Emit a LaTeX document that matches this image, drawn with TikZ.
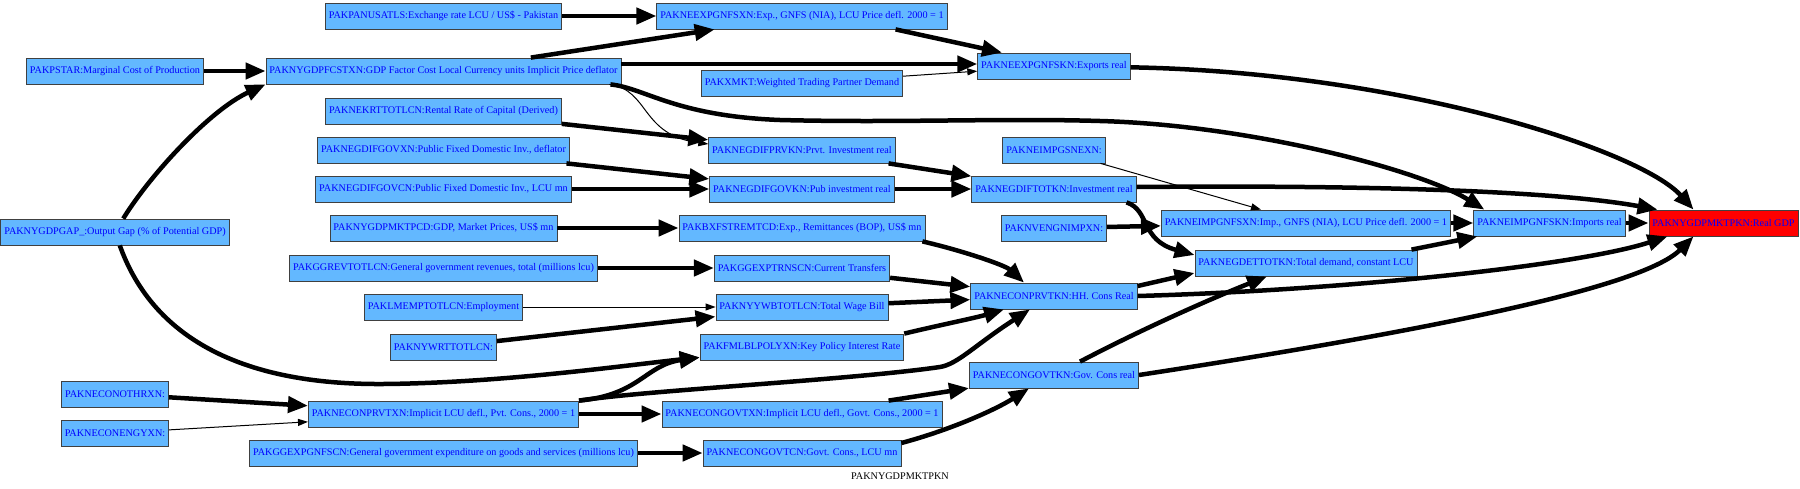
\documentclass[tikz,border=0pt]{standalone}
\usepackage{fontspec}
\setmainfont{Liberation Serif}
\usetikzlibrary{arrows.meta}
\definecolor{boxblue}{RGB}{99,184,255}

\begin{document}
\begin{tikzpicture}[x=1pt, y=-1pt,
    box/.style={draw=black!75, line width=0.8pt, fill=boxblue, rectangle, align=center, text=blue,
      font=\fontsize{10.2}{12}\selectfont, inner xsep=3.5pt, inner ysep=0pt, minimum height=26pt},
    target/.style={box, fill=red},
    heavy/.style={-{Triangle[length=20pt, width=16pt]}, line width=4.5pt},
    light/.style={-{Triangle[length=10pt, width=7pt]}, line width=1pt}]
  \useasboundingbox (0,0) rectangle (1800,488);

  % column 1
  \node[box] (pstar) at (115, 71) {PAKPSTAR:Marginal Cost of Production};
  \node[box] (gap) at (115, 232) {PAKNYGDPGAP\_:Output Gap (\% of Potential GDP)};
  \node[box] (conoth) at (115, 394) {PAKNECONOTHRXN:};
  \node[box] (coneng) at (115, 433) {PAKNECONENGYXN:};
  % column 2
  \node[box] (pan) at (443.5, 16) {PAKPANUSATLS:Exchange rate LCU / US\$ - Pakistan};
  \node[box] (fcst) at (443.5, 71) {PAKNYGDPFCSTXN:GDP Factor Cost Local Currency units Implicit Price deflator};
  \node[box] (krt) at (443.5, 111) {PAKNEKRTTOTLCN:Rental Rate of Capital (Derived)};
  \node[box] (gdifgovx) at (443.5, 150) {PAKNEGDIFGOVXN:Public Fixed Domestic Inv., deflator};
  \node[box] (gdifgovc) at (443.5, 189) {PAKNEGDIFGOVCN:Public Fixed Domestic Inv., LCU mn};
  \node[box] (mktpcd) at (443.5, 228) {PAKNYGDPMKTPCD:GDP, Market Prices, US\$ mn};
  \node[box] (grev) at (443.5, 268) {PAKGGREVTOTLCN:General government revenues, total (millions lcu)};
  \node[box] (lmemp) at (443.5, 307) {PAKLMEMPTOTLCN:Employment};
  \node[box] (wrt) at (443.5, 347) {PAKNYWRTTOTLCN:};
  \node[box] (conprvx) at (443.5, 414) {PAKNECONPRVTXN:Implicit LCU defl., Pvt. Cons., 2000 = 1};
  \node[box] (gexpg) at (443.5, 453) {PAKGGEXPGNFSCN:General government expenditure on goods and services (millions lcu)};
  % column 3
  \node[box] (expx) at (802, 16) {PAKNEEXPGNFSXN:Exp., GNFS (NIA), LCU Price defl. 2000 = 1};
  \node[box] (xmkt) at (802, 83) {PAKXMKT:Weighted Trading Partner Demand};
  \node[box] (gdifprv) at (802, 150) {PAKNEGDIFPRVKN:Prvt. Investment real};
  \node[box] (gdifgovk) at (802, 189) {PAKNEGDIFGOVKN:Pub investment real};
  \node[box] (bxfs) at (802, 228) {PAKBXFSTREMTCD:Exp., Remittances (BOP), US\$ mn};
  \node[box] (trns) at (802, 268) {PAKGGEXPTRNSCN:Current Transfers};
  \node[box] (wbt) at (802, 307) {PAKNYYWBTOTLCN:Total Wage Bill};
  \node[box] (fmlbl) at (802, 347) {PAKFMLBLPOLYXN:Key Policy Interest Rate};
  \node[box] (congovx) at (802, 414) {PAKNECONGOVTXN:Implicit LCU defl., Govt. Cons., 2000 = 1};
  \node[box] (congovc) at (802, 453) {PAKNECONGOVTCN:Govt. Cons., LCU mn};
  % column 4
  \node[box] (expk) at (1054, 66) {PAKNEEXPGNFSKN:Exports real};
  \node[box] (impgsne) at (1054, 150) {PAKNEIMPGSNEXN:};
  \node[box] (gdiftot) at (1054, 189) {PAKNEGDIFTOTKN:Investment real};
  \node[box] (nveng) at (1054, 228) {PAKNVENGNIMPXN:};
  \node[box] (conprvk) at (1054, 296) {PAKNECONPRVTKN:HH. Cons Real};
  \node[box] (congovk) at (1054, 375) {PAKNECONGOVTKN:Gov. Cons real};
  % columns 5 to 7
  \node[box] (impx) at (1306, 223) {PAKNEIMPGNFSXN:Imp., GNFS (NIA), LCU Price defl. 2000 = 1};
  \node[box] (det) at (1306, 263) {PAKNEGDETTOTKN:Total demand, constant LCU};
  \node[box] (impk) at (1549.5, 223) {PAKNEIMPGNFSKN:Imports real};
  \node[target] (gdp) at (1723.5, 223) {PAKNYGDPMKTPKN:Real GDP};
  \node[font=\fontsize{10.2}{12}\selectfont] (caption) at (900, 476) {PAKNYGDPMKTPKN};

  % links
  \draw[heavy] (pan) -- (expx);
  \draw[heavy] (fcst) -- (expx);
  \draw[heavy] ([xshift=-52pt]expx.south east) -- ([xshift=-52pt]expk.north);
  \draw[heavy] ([yshift=7pt]fcst.east) -- ([yshift=2pt]expk.west);
  \draw[light] (xmkt) -- (expk);
  \draw[heavy] (expk) .. controls (1400,72) and (1640,150) .. ([xshift=-30pt]gdp.north);
  \draw[heavy] (pstar) -- (fcst);
  \draw[heavy] (gap) .. controls (150,175) and (210,110) .. (fcst.south west);
  \draw[heavy] (gap) .. controls (150,330) and (230,385) .. (383,384) .. controls (500,383) and (620,366) .. ([yshift=3pt]fmlbl.south west);
  \draw[light] ([xshift=-12pt]fcst.south east) .. controls (650,90) and (640,135) .. ([yshift=6pt]gdifprv.west);
  \draw[heavy] ([xshift=-11pt]fcst.south east) .. controls (645,88) and (675,116) .. (780,120) .. controls (900,123) and (1000,118) .. (1100,121) .. controls (1250,125) and (1420,170) .. ([xshift=11pt]impk.north west);
  \draw[heavy] (krt) -- (gdifprv);
  \draw[heavy] (gdifgovx) -- (gdifgovk);
  \draw[heavy] (gdifgovc) -- (gdifgovk);
  \draw[heavy] (gdifprv) -- (gdiftot);
  \draw[heavy] (gdifgovk) -- (gdiftot);
  \draw[heavy] ([yshift=2pt]gdiftot.east) .. controls (1350,185) and (1550,190) .. ([xshift=9pt]gdp.north west);
  \draw[heavy] ([xshift=-10pt]gdiftot.south east) .. controls (1150,210) and (1140,240) .. ([yshift=8pt]det.west);
  \draw[light] (impgsne) -- ([xshift=-45pt]impx.north);
  \draw[heavy] (nveng) -- (impx);
  \draw[heavy] (impx) -- (impk);
  \draw[heavy] (impk) -- (gdp);
  \draw[heavy] ([xshift=-6pt]det.north east) -- ([xshift=4pt]impk.south west);
  \draw[heavy] (mktpcd) -- (bxfs);
  \draw[heavy] ([xshift=-3pt]bxfs.south east) .. controls (960,250) and (1005,265) .. ([xshift=-30pt]conprvk.north);
  \draw[heavy] (grev) -- (trns);
  \draw[heavy] (trns) -- (conprvk);
  \draw[light] (lmemp) -- (wbt);
  \draw[heavy] (wrt) -- (wbt);
  \draw[heavy] (wbt) -- (conprvk);
  \draw[heavy] (fmlbl.north east) .. controls (940,325) and (975,318) .. ([xshift=-50pt]conprvk.south);
  \draw[heavy] (conprvx.north east) .. controls (650,390) and (850,380) .. (940,367) .. controls (958,364) and (975,345) .. ([xshift=-24pt]conprvk.south);
  \draw[heavy] (conprvx.north east) .. controls (640,395) and (645,365) .. ([yshift=3pt]fmlbl.south west);
  \draw[heavy] ([yshift=10pt]conprvk.east) -- ([yshift=-10pt]det.west);
  \draw[heavy] (conprvk.east) .. controls (1350,290) and (1580,265) .. ([xshift=-56pt]gdp.south);
  \draw[heavy] ([xshift=26pt]congovk.north) .. controls (1150,325) and (1220,295) .. ([xshift=-39pt]det.south);
  \draw[heavy] (congovk.east) .. controls (1400,335) and (1640,290) .. ([xshift=-30pt]gdp.south);
  \draw[heavy] (conoth) -- (conprvx);
  \draw[light] (coneng) -- (conprvx);
  \draw[heavy] (conprvx) -- (congovx);
  \draw[heavy] (congovx) -- (congovk);
  \draw[heavy] ([yshift=10pt]congovc.east) .. controls (950,430) and (995,410) .. ([xshift=-25pt]congovk.south);
  \draw[heavy] (gexpg) -- (congovc);
\end{tikzpicture}
\end{document}
